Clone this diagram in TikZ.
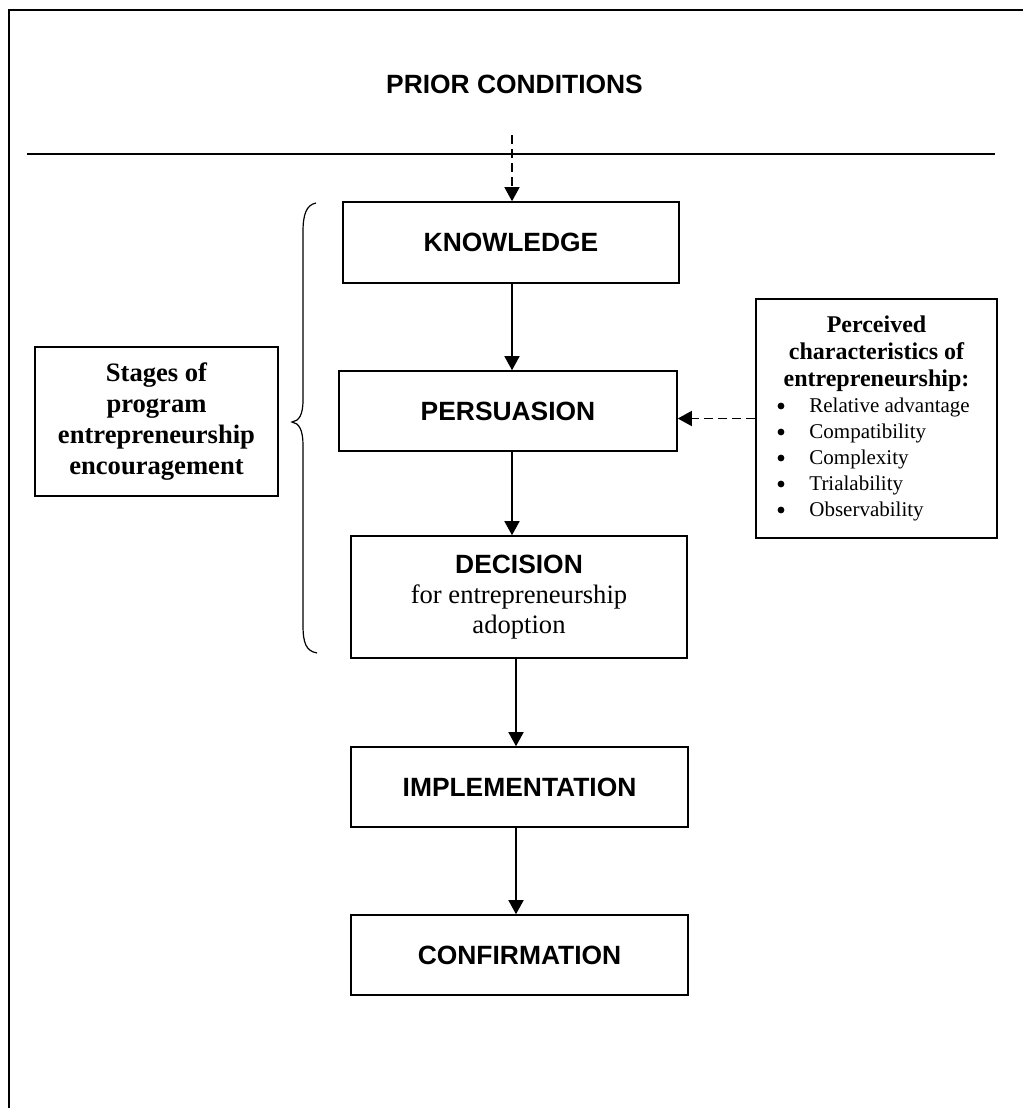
\documentclass[tikz,border=0pt]{standalone}
\usepackage{fontspec}
\setmainfont{Liberation Serif}
\newfontfamily\arialfont{Liberation Sans}
\usetikzlibrary{arrows.meta}
\begin{document}
\begin{tikzpicture}[x=0.5pt,y=-0.5pt,
  stagebox/.style={draw, line width=0.8pt, inner sep=0pt, rectangle,
    font=\arialfont\bfseries\fontsize{13.2}{15}\selectfont},
  sidebox/.style={draw, line width=0.8pt, inner sep=0pt, rectangle},
  arr/.style={line width=0.75pt, -{Triangle[length=7pt,width=7.5pt]}},
  dasharr/.style={arr, dash pattern=on 4.5pt off 2.5pt},
  head/.style={anchor=base, inner sep=0pt, font=\bfseries\fontsize{12}{13.8}\selectfont},
  item/.style={anchor=base west, inner sep=0pt, font=\fontsize{10.5}{13}\selectfont},
  bul/.style={circle, fill, inner sep=0pt, minimum size=3.4pt}]
\useasboundingbox (0,0) rectangle (1023,1108);
% frame
\draw[line width=1.1pt] (9,1108) -- (9,10) -- (1023,10);
\draw[line width=1.1pt] (27,154) -- (995,154);
\node[inner sep=0pt, font=\arialfont\bfseries\fontsize{13.2}{15}\selectfont] (prior) at (514.5,84) {PRIOR CONDITIONS};
\coordinate (topstart) at (512,135);
% main boxes
\node[stagebox, minimum width=168pt, minimum height=40.5pt] (know) at (511,242.5) {KNOWLEDGE};
\node[stagebox, minimum width=169pt, minimum height=40pt] (pers) at (508,411) {PERSUASION};
\node[stagebox, minimum width=168pt, minimum height=61pt, align=center,
      font=\fontsize{13.3}{15}\selectfont] (dec) at (519,597)
      {{\arialfont\bfseries\fontsize{13.2}{15}\selectfont DECISION}\\for entrepreneurship\\adoption};
\node[stagebox, minimum width=168.5pt, minimum height=40pt] (impl) at (519.5,787) {IMPLEMENTATION};
\node[stagebox, minimum width=168.5pt, minimum height=40pt] (conf) at (519.5,955) {CONFIRMATION};
% left box
\node[sidebox, minimum width=121.5pt, minimum height=74.5pt, align=center,
      font=\bfseries\fontsize{13.3}{15.5}\selectfont] (stages) at (156.5,421.5)
      {Stages of\\program\\entrepreneurship\\encouragement};
% brace
\draw[line width=0.6pt] (316,203) .. controls (306,205) and (303,215) .. (303,232) -- (303,400)
  .. controls (303,415) and (299,421) .. (292,422)
  .. controls (299,423) and (303,430) .. (303,445) -- (303,625)
  .. controls (303,643) and (306,651) .. (317,653);
% right box
\node[sidebox, minimum width=120.5pt, minimum height=119.5pt] (chars) at (876.5,418.5) {};
\node[head] (h1) at (876.5,332) {Perceived};
\node[head] (h2) at (876.5,359) {characteristics of};
\node[head] (h3) at (876.5,386) {entrepreneurship:};
\node[bul] (b1) at (781,406) {};
\node[item] (i1) at (809,412) {Relative advantage};
\node[bul] (b2) at (781,432) {};
\node[item] (i2) at (809,438) {Compatibility};
\node[bul] (b3) at (781,458) {};
\node[item] (i3) at (809,464) {Complexity};
\node[bul] (b4) at (781,484) {};
\node[item] (i4) at (809,490) {Trialability};
\node[bul] (b5) at (781,510) {};
\node[item] (i5) at (809,516) {Observability};
% connectors
\draw[dasharr] (topstart) -- (topstart |- know.north);
\draw[arr] ([xshift=0.5pt]know.south) -- ([xshift=0.5pt]know.south |- pers.north);
\draw[arr] ([xshift=2pt]pers.south) -- ([xshift=2pt]pers.south |- dec.north);
\draw[arr] ([xshift=-1.5pt]dec.south) -- ([xshift=-1.5pt]dec.south |- impl.north);
\draw[arr] ([xshift=-1.75pt]impl.south) -- ([xshift=-1.75pt]impl.south |- conf.north);
\draw[dasharr] (chars.west) -- (chars.west -| pers.east);
\end{tikzpicture}
\end{document}
